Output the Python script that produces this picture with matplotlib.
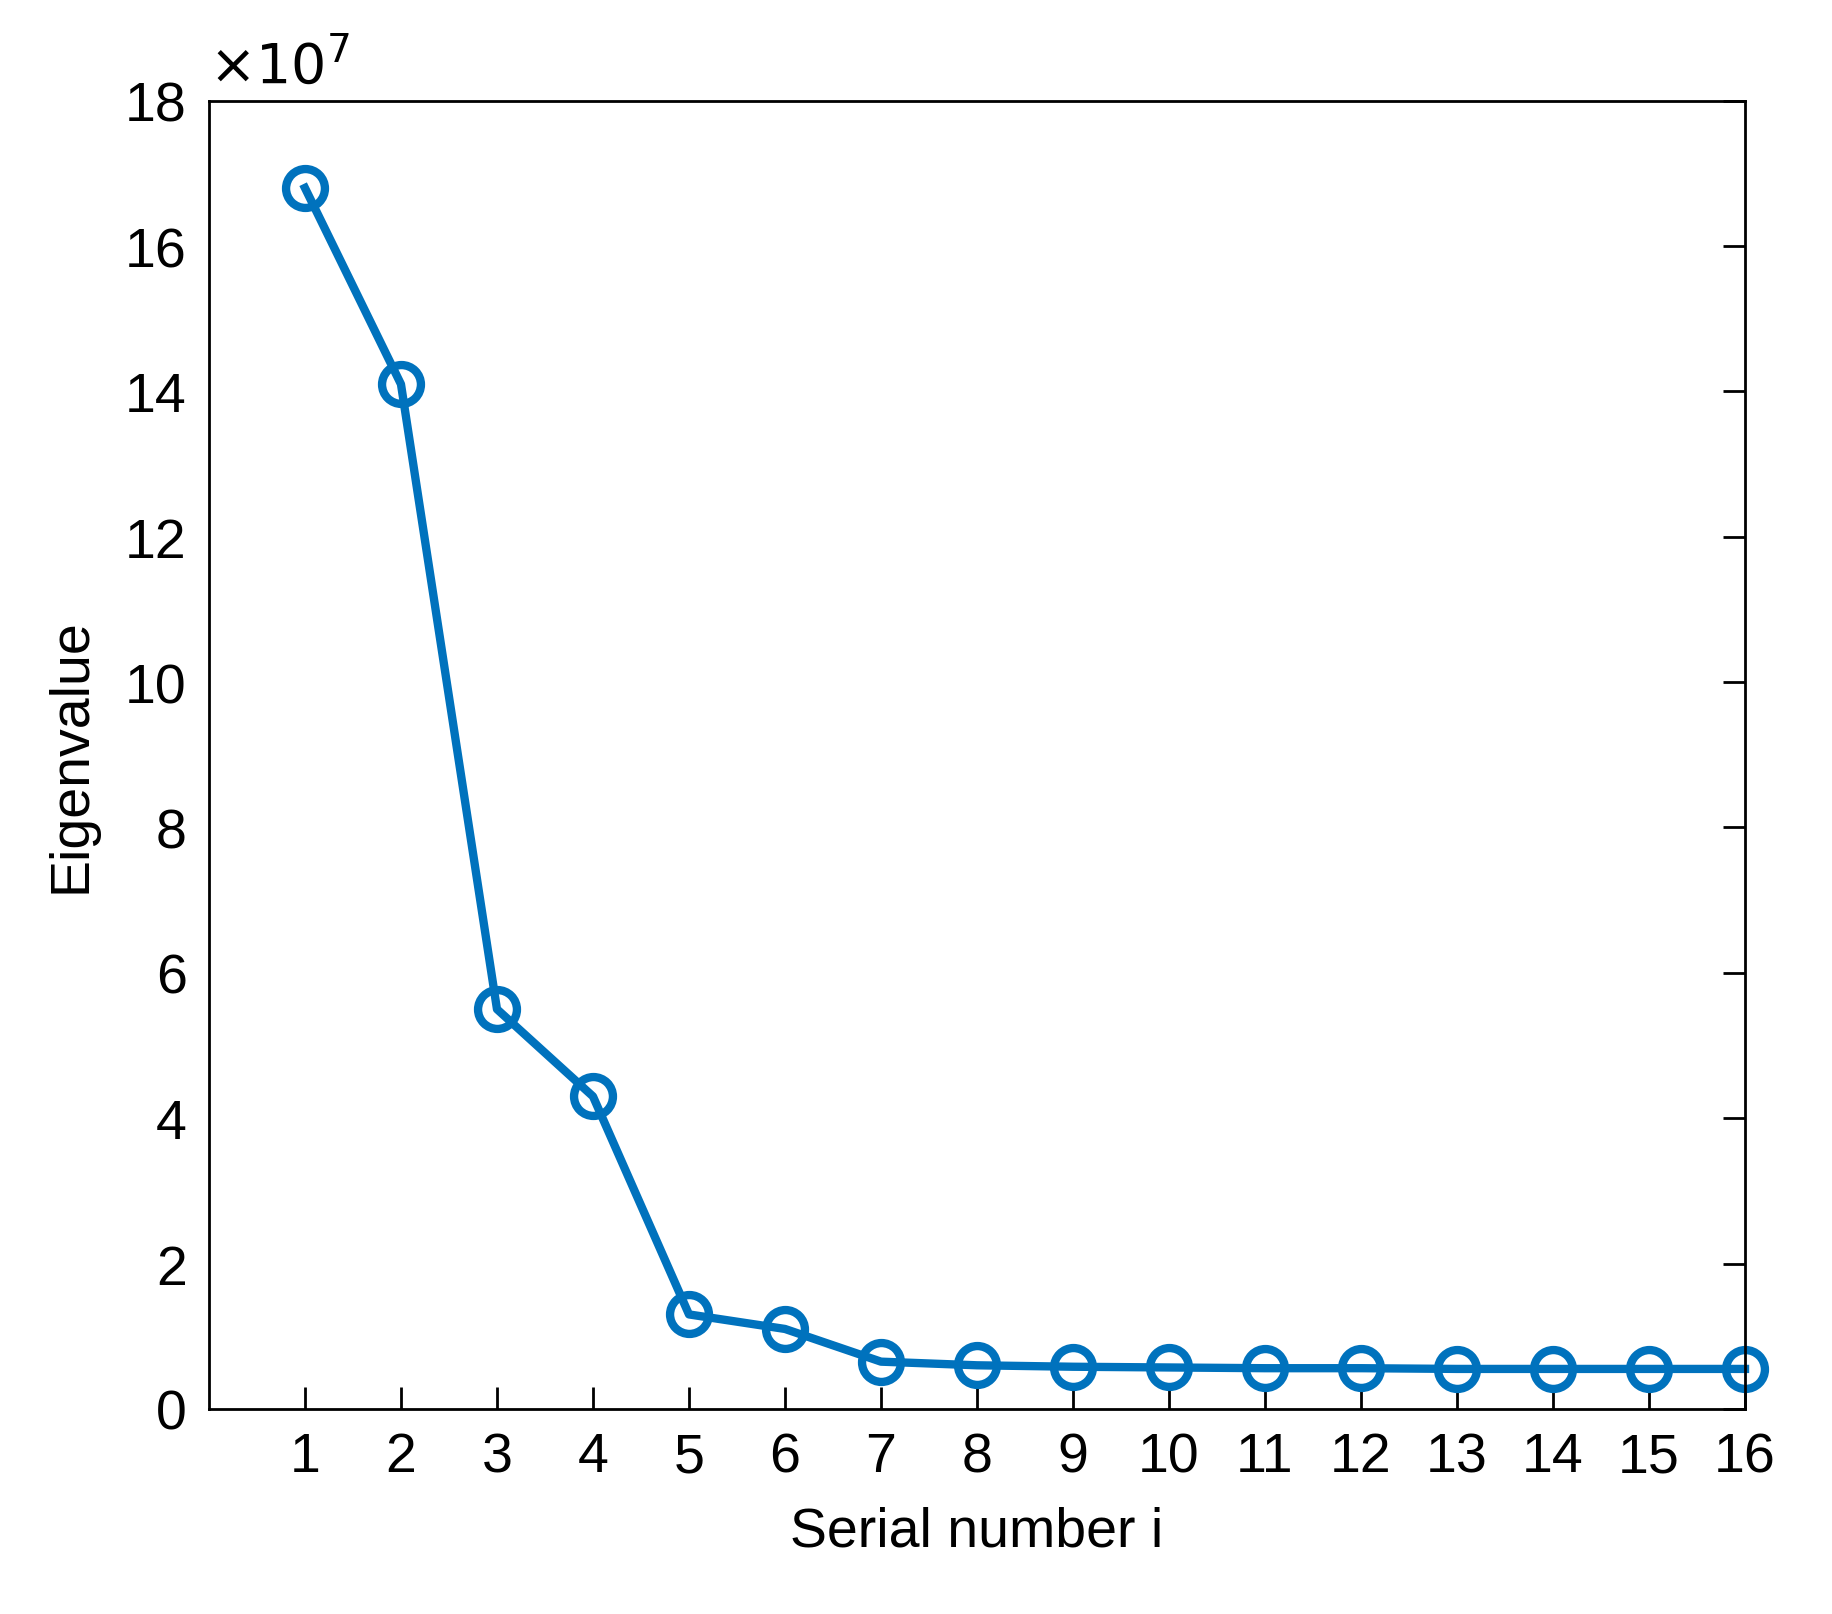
import matplotlib
matplotlib.use('Agg')
import matplotlib.pyplot as plt

plt.rcParams['font.family'] = ['Liberation Sans', 'DejaVu Sans']

# eigenvalues, in units of 1e7
serial = list(range(1, 17))
eigen = [16.8, 14.1, 5.5, 4.3, 1.3, 1.1, 0.65, 0.6, 0.58, 0.57, 0.56, 0.56, 0.55, 0.55, 0.55, 0.55]
scale = 1e7

fig = plt.figure(figsize=(18.33, 16.15), dpi=100)
ax = fig.add_axes([0.114, 0.127, 0.838, 0.810])
ax.plot(serial, [v * scale for v in eigen], color='#0072BD', lw=6,
        marker='o', markersize=28, markerfacecolor='none', markeredgewidth=6,
        clip_on=False)
ax.set_xlim(0, 16)
ax.set_ylim(0, 18e7)
ax.set_xticks(serial)
ax.set_yticks([i * 2e7 for i in range(10)])
ax.set_yticklabels([str(i * 2) for i in range(10)])
ax.tick_params(direction='in', labelsize=40, length=16, width=2, pad=16)
ax.tick_params(axis='y', left=False, right=True)
ax.tick_params(axis='x', top=False, bottom=True)
for s in ax.spines.values():
    s.set_linewidth(2)
ax.set_xlabel('Serial number i', fontsize=40, labelpad=16)
ax.set_ylabel('Eigenvalue', fontsize=40, labelpad=20)
ax.text(0.0, 1.005, r'$\times10^{7}$', transform=ax.transAxes, fontsize=40,
        ha='left', va='bottom')
fig.savefig('out.png', dpi=100, facecolor='white')
